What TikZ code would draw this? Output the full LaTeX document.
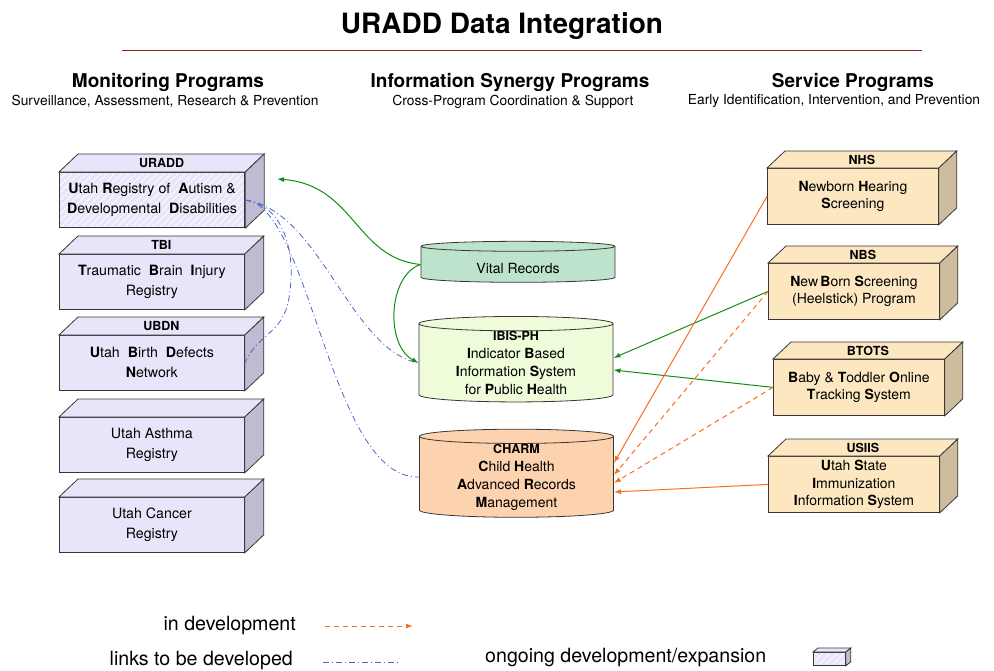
\documentclass[tikz,border=0pt]{standalone}
\usepackage{fontspec}
\setmainfont{TeX Gyre Heros}
\usetikzlibrary{arrows.meta,shapes.geometric,calc,patterns.meta}

\definecolor{lavface}{RGB}{231,229,250}
\definecolor{lavside}{RGB}{190,187,211}
\definecolor{tanface}{RGB}{253,231,192}
\definecolor{tanside}{RGB}{206,188,158}
\definecolor{vitalgreen}{RGB}{190,227,204}
\definecolor{ibisgreen}{RGB}{238,252,218}
\definecolor{charmpeach}{RGB}{253,211,175}
\definecolor{linkgreen}{RGB}{20,140,20}
\definecolor{devorange}{RGB}{250,110,30}
\definecolor{linkblue}{RGB}{75,100,200}
\definecolor{rulered}{RGB}{140,35,35}
\definecolor{edgegrey}{RGB}{55,55,55}

\tikzset{
  front/.style={draw=edgegrey, line width=0.8pt, align=center, inner sep=0pt},
  monitor/.style={front, fill=lavface, minimum width=185pt, minimum height=55pt,
    font=\fontsize{14.2}{20}\selectfont},
  service/.style={front, fill=tanface, minimum width=171pt, minimum height=56pt,
    font=\fontsize{14}{17.5}\selectfont},
  hatched/.style={preaction={fill=lavface},
    pattern={Lines[angle=45,distance=5pt,line width=1.2pt]}, pattern color=white!70!lavface},
  toplabel/.style={font=\fontsize{12.5}{14}\selectfont\bfseries, inner sep=0pt},
  db/.style={cylinder, shape border rotate=90, aspect=0.12, draw=edgegrey,
    line width=0.8pt, align=center, inner sep=0pt, minimum width=194pt,
    font=\fontsize{14}{18}\selectfont},
  greenlink/.style={linkgreen, line width=1pt, -{Latex[length=7pt,width=5pt]}},
  devlink/.style={devorange, line width=1pt, -{Latex[length=7pt,width=5pt]}},
  devdash/.style={devlink, dash pattern=on 5pt off 4pt},
  bluelink/.style={linkblue, line width=0.8pt, dash pattern=on 6pt off 3pt on 1pt off 3pt},
  legtext/.style={font=\fontsize{19.6}{22}\selectfont, inner sep=0pt},
  head/.style={font=\fontsize{19}{21}\selectfont\bfseries, inner sep=0pt},
  subhead/.style={font=\fontsize{13.8}{15}\selectfont, inner sep=0pt}
}

% top and side faces of a box: node, top colour, side colour, depth
\newcommand{\boxfaces}[4]{
  \draw[draw=edgegrey, line width=0.8pt, fill=#2] (#1.north west) -- ++#4
    -- ($(#1.north east)+#4$) -- (#1.north east) -- cycle;
  \draw[draw=edgegrey, line width=0.8pt, fill=#3] (#1.north east) -- ++#4
    -- ($(#1.south east)+#4$) -- (#1.south east) -- cycle;
}

\begin{document}
\begin{tikzpicture}[x=1pt,y=-1pt]
  \useasboundingbox (0,0) rectangle (994,670);

  % titles
  \node[font=\fontsize{28}{32}\selectfont\bfseries, inner sep=0pt] (title) at (502,26) {URADD Data Integration};
  \draw[rulered, line width=1pt] (122,50) -- (922,50);
  \node[head] (monhead) at (168,82) {Monitoring Programs};
  \node[subhead] (monsub) at (165,101) {Surveillance, Assessment, Research \& Prevention};
  \node[head] (synhead) at (510,82) {Information Synergy Programs};
  \node[subhead] (synsub) at (513,102) {Cross-Program Coordination \& Support};
  \node[head] (serhead) at (853,82) {Service Programs};
  \node[subhead] (sersub) at (834,101) {Early Identification, Intervention, and Prevention};

  % monitoring programs
  \node[monitor, hatched, anchor=north west] (uradd) at (59,172)
    {\textbf{U}tah \textbf{R}egistry of \ \textbf{A}utism \&\\\textbf{D}evelopmental \ \textbf{D}isabilities};
  \boxfaces{uradd}{lavface}{lavside}{(19,-18)}
  \node[toplabel] (uraddlabel) at ($(uradd.north)+(9.5,-9)$) {URADD};

  \node[monitor, anchor=north west] (tbi) at (59,254)
    {\textbf{T}raumatic \ \textbf{B}rain \ \textbf{I}njury\\Registry};
  \boxfaces{tbi}{lavface}{lavside}{(19,-18)}
  \node[toplabel] (tbilabel) at ($(tbi.north)+(9.5,-9)$) {TBI};

  \node[monitor, anchor=north west] (ubdn) at (59,335)
    {\textbf{U}tah \ \textbf{B}irth \ \textbf{D}efects\\\textbf{N}etwork};
  \boxfaces{ubdn}{lavface}{lavside}{(19,-18)}
  \node[toplabel] (ubdnlabel) at ($(ubdn.north)+(9.5,-9)$) {UBDN};

  \node[monitor, anchor=north west] (asthma) at (59,417) {Utah Asthma\\Registry};
  \boxfaces{asthma}{lavface}{lavside}{(19,-18)}

  \node[monitor, anchor=north west] (cancer) at (59,497) {Utah Cancer\\Registry};
  \boxfaces{cancer}{lavface}{lavside}{(19,-18)}

  % service programs
  \node[service, anchor=north west] (nhs) at (767,168)
    {\textbf{N}ewborn \textbf{H}earing\\\textbf{S}creening};
  \boxfaces{nhs}{tanface}{tanside}{(18,-17)}
  \node[toplabel] (nhslabel) at ($(nhs.north)+(9,-8.5)$) {NHS};

  \node[service, anchor=north west] (nbs) at (768,263)
    {\textbf{N}ew\,\textbf{B}orn \textbf{S}creening\\(Heelstick) Program};
  \boxfaces{nbs}{tanface}{tanside}{(18,-17)}
  \node[toplabel] (nbslabel) at ($(nbs.north)+(9,-8.5)$) {NBS};

  \node[service, anchor=north west] (btots) at (773,359)
    {\textbf{B}aby \& \textbf{T}oddler \textbf{O}nline\\\textbf{T}racking \textbf{S}ystem};
  \boxfaces{btots}{tanface}{tanside}{(18,-17)}
  \node[toplabel] (btotslabel) at ($(btots.north)+(9,-8.5)$) {BTOTS};

  \node[service, anchor=north west] (usiis) at (768,456)
    {\textbf{U}tah \textbf{S}tate\\\textbf{I}mmunization\\\textbf{I}nformation \textbf{S}ystem};
  \boxfaces{usiis}{tanface}{tanside}{(18,-17)}
  \node[toplabel] (usiislabel) at ($(usiis.north)+(9,-8.5)$) {USIIS};

  % synergy programs
  \node[db, fill=vitalgreen, minimum height=41pt] (vital) at (518,264.5)
    {\rule{0pt}{19pt}Vital Records};
  \node[db, fill=ibisgreen, minimum height=74pt] (ibis) at (516,363)
    {{\fontsize{12.5}{14}\selectfont\bfseries IBIS-PH}\\\textbf{I}ndicator \textbf{B}ased\\
     \textbf{I}nformation \textbf{S}ystem\\for \textbf{P}ublic \textbf{H}ealth};
  \node[db, fill=charmpeach, minimum height=80pt] (charm) at (516.5,477)
    {{\fontsize{12.5}{14}\selectfont\bfseries CHARM}\\\textbf{C}hild \textbf{H}ealth\\
     \textbf{A}dvanced \textbf{R}ecords\\\textbf{M}anagement};

  % links
  \coordinate (uraddin) at (277,179);
  \draw[greenlink] (vital.west) .. controls (355,258) and (355,185) .. (uraddin);
  \draw[greenlink] (vital.west) .. controls (388,275) and (385,345) .. (ibis.west);
  \draw[bluelink] (uradd.east) .. controls (285,205) and (295,255) .. (290,290)
    .. controls (286,335) and (260,330) .. (ubdn.east);
  \draw[bluelink] (uradd.east) .. controls (320,210) and (350,350) .. (ibis.west);
  \draw[bluelink] (uradd.east) .. controls (310,205) and (330,480) .. (charm.west);

  \draw[greenlink] (nbs.west) -- ($(ibis.east)+(0,-5)$);
  \draw[greenlink] (btots.west) -- ($(ibis.east)+(0,7)$);
  \draw[devlink] (nhs.west) -- ($(charm.east)+(0,-14)$);
  \draw[devdash] (nbs.west) -- ($(charm.east)+(0,-2)$);
  \draw[devdash] (btots.west) -- ($(charm.east)+(0,6)$);
  \draw[devlink] (usiis.west) -- ($(charm.east)+(0,15)$);

  % legend
  \node[legtext, anchor=east] (devtext) at (296,625) {in development};
  \coordinate (devfrom) at (325,626);
  \coordinate (devto) at (413,626);
  \draw[devdash] (devfrom) -- (devto);
  \node[legtext, anchor=east] (linktext) at (293,660) {links to be developed};
  \coordinate (linkfrom) at (323,662);
  \coordinate (linkto) at (400,662);
  \draw[bluelink] (linkfrom) -- (linkto);
  \node[legtext, anchor=west] (ongoingtext) at (485,657) {ongoing development/expansion};
  \node[front, hatched, minimum width=32pt, minimum height=13pt, anchor=north west] (ongoingbox) at (813,652) {};
  \boxfaces{ongoingbox}{lavface}{lavside}{(5,-4)}
\end{tikzpicture}
\end{document}
